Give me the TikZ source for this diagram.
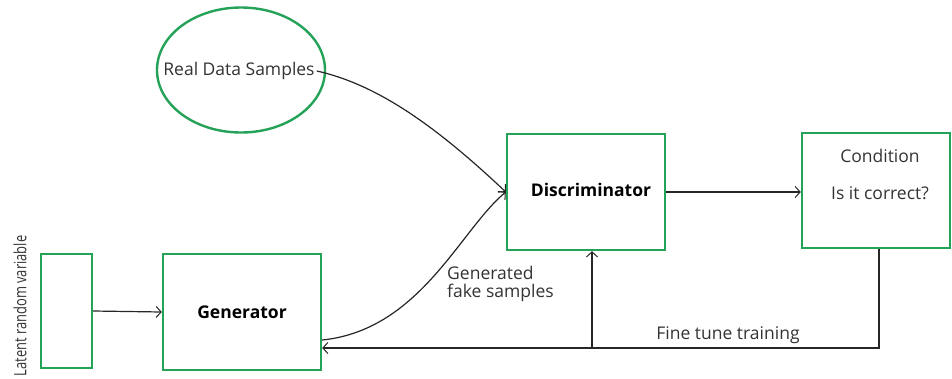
\documentclass[tikz,border=0pt]{standalone}
\usepackage{fontspec}
\setmainfont{Open Sans}
\usetikzlibrary{arrows.meta,shapes.geometric,calc}
\definecolor{boxgreen}{RGB}{36,162,88}
\begin{document}
\begin{tikzpicture}[x=1pt,y=-1pt,
  font=\fontsize{17.5}{18}\selectfont,
  boldtxt/.style={font=\fontsize{17.5}{18}\selectfont\bfseries},
  greenbox/.style={draw=boxgreen,line width=2.4pt,rectangle,inner sep=0pt},
  flow/.style={draw=black!85,line width=1.2pt,-{Straight Barb[length=5pt,width=11pt,line width=1pt]}},
  lbl/.style={inner sep=0pt,text=black!80}]
\useasboundingbox (0,0) rectangle (952,378);

% boxes
\node[greenbox,minimum width=51pt,minimum height=114pt] (latent) at (66.5,311) {};
\node[greenbox,minimum width=158pt,minimum height=116pt,boldtxt] (gen) at (242,312) {Generator};
\node[draw=boxgreen,line width=2.4pt,ellipse,inner sep=0pt,minimum width=168pt,minimum height=125pt] (real) at (241,70) {};
\node[lbl] (realtxt) at (239,71) {Real Data Samples};
\node[greenbox,minimum width=158pt,minimum height=116pt] (disc) at (586,192) {};
\node[lbl,boldtxt,text=black] (disctxt) at (591,190) {Discriminator};
\node[greenbox,minimum width=148pt,minimum height=115pt] (cond) at (876,190.5) {};
\node[lbl] (condtxt) at (880,156) {Condition};
\node[lbl] (condq) at (880,193) {Is it correct?};

% labels
\node[lbl,rotate=90,font=\fontsize{17}{19}\selectfont] (latenttxt) at (20,306) {\scalebox{0.76}[1]{Latent random variable}};
\node[lbl,anchor=west,align=left] (gentxt) at (447,284) {Generated\\fake samples};
\node[lbl] (finetxt) at (728,335) {Fine tune training};

% connectors
\draw[flow] (latent.east) -- (gen.west);
\draw[flow] (realtxt.east) ++(2pt,0) .. controls (380,85) and (440,130) .. (disc.west);
\draw[flow] ([yshift=-28pt]gen.east) .. controls (420,330) and (460,230) .. (disc.west);
\draw[flow] (disc.east) -- (disc.east -| cond.west);

\coordinate (corner) at (879,348);
\coordinate (branch) at (592,348);
\draw[flow] ([xshift=3pt]cond.south) -- (corner) -- (corner -| gen.east);
\draw[flow] (branch) -- (branch |- disc.south);
\end{tikzpicture}
\end{document}
